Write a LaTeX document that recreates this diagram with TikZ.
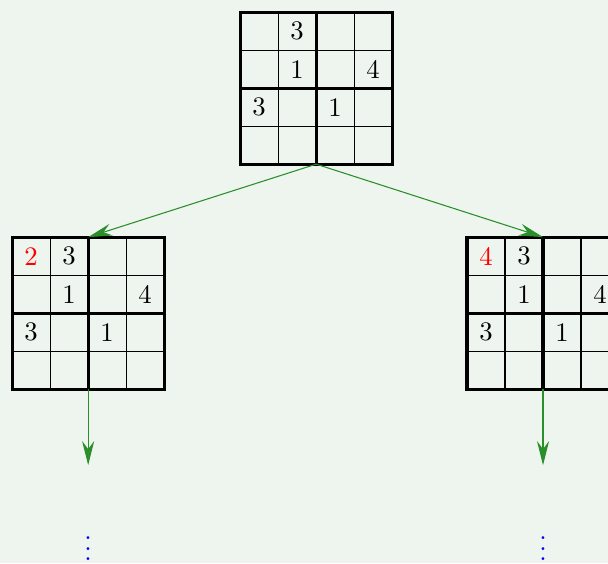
\documentclass[tikz,border=0pt]{standalone}
\usepackage{amsmath}
\usepackage{xcolor}
\usepackage{tikz}
\definecolor{bggreen}{HTML}{EEF4EE}
\definecolor{arrowgreen}{HTML}{2A8F2A}
\definecolor{red}{HTML}{FF0000}
\definecolor{blue}{HTML}{0000FF}
\usetikzlibrary{arrows.meta}
\usetikzlibrary{positioning}

\tikzset{
	board/.style={minimum size=2cm, inner sep=0pt, outer sep=0pt},
	branch/.style={-{Stealth[length=9pt, width=4.5pt, inset=3pt]}, arrowgreen, thin},
}

% Sudoku-Feld: #1 Knoten, #2 Ziffer oben links, #3 Farbe
\newcommand{\drawboard}[3]{
	\begin{scope}[shift={(#1.south west)}]
		\draw [thin] (0,0) grid[step=0.5] (2,2);
		\draw [very thick] (0,0) rectangle (2,2);
		\draw [very thick] (1,0) -- (1,2) (0,1) -- (2,1);
		\node [#3] at (0.25,1.75) {#2};
		\foreach \x/\y/\z in {0.75/1.75/3, 0.75/1.25/1, 1.75/1.25/4, 0.25/0.75/3, 1.25/0.75/1}
			\node at (\x,\y) {\z};
	\end{scope}
}

\begin{document}
\begin{tikzpicture}
		%Hintergrund
		\fill [bggreen] (0,0) rectangle (8,-7.408);
		\useasboundingbox (0,0) rectangle (8,-7.408);

		%Felder
		\node [board] (root) at (4.16,-1.16) {};
		\node [board, below left=0.96cm and 1cm of root] (left) {};
		\node [board, below right=0.96cm and 0.985cm of root] (right) {};

		\drawboard{root}{}{black}
		\drawboard{left}{2}{red}
		\drawboard{right}{4}{red}

		%Verzweigung
		\draw [branch] (root.south) -- (left.north);
		\draw [branch] (root.south) -- (right.north);

		%Weiter nach unten
		\coordinate [below=1cm of left.south] (leftend);
		\coordinate [below=1cm of right.south] (rightend);
		\draw [branch] (left.south) -- (leftend);
		\draw [branch] (right.south) -- (rightend);

		\node [blue, anchor=base] (leftdots) at (left.south |- 0,-7.38) {$\vdots$};
		\node [blue, anchor=base] (rightdots) at (right.south |- 0,-7.38) {$\vdots$};
	\end{tikzpicture}
\end{document}
